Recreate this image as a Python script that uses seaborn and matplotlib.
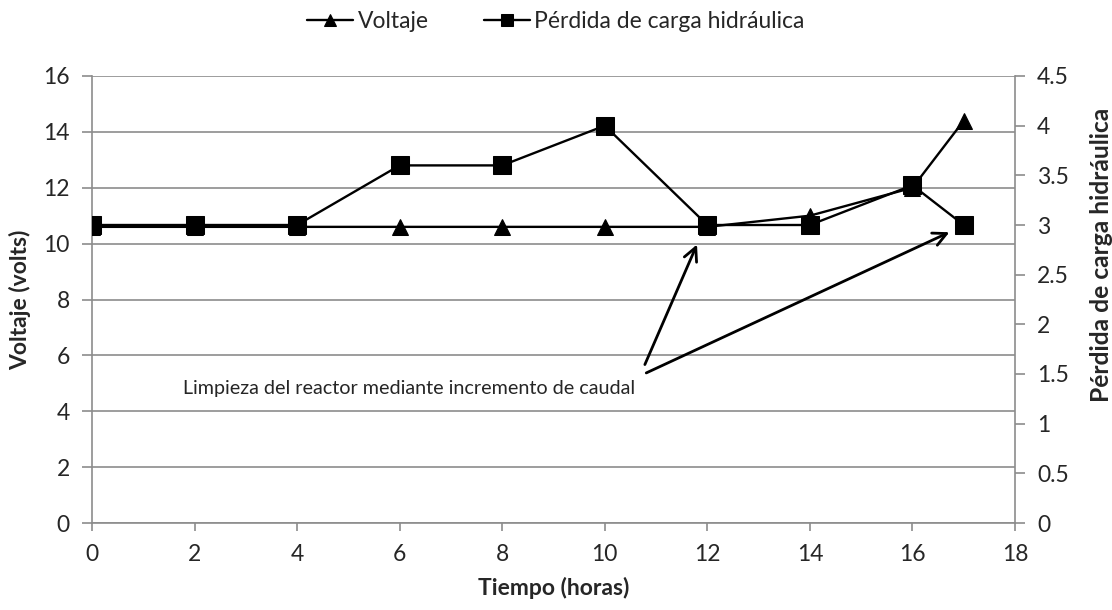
import matplotlib
matplotlib.use("Agg")
import matplotlib.pyplot as plt
import seaborn as sns
import pandas as pd

# Time (hours) and measured series
tiempo = [0, 2, 4, 6, 8, 10, 12, 14, 16, 17]
voltaje = [10.6, 10.6, 10.6, 10.6, 10.6, 10.6, 10.6, 11.0, 12.0, 14.4]
perdida = [3.0, 3.0, 3.0, 3.6, 3.6, 4.0, 3.0, 3.0, 3.4, 3.0]

x_ticks = list(range(0, 19, 2))
y_left_ticks = list(range(0, 17, 2))
y_right_ticks = [0, 0.5, 1, 1.5, 2, 2.5, 3, 3.5, 4, 4.5]
y_right_labels = ["0", "0.5", "1", "1.5", "2", "2.5", "3", "3.5", "4", "4.5"]

nota = "Limpieza del reactor mediante incremento de caudal"

df = pd.DataFrame({"tiempo": tiempo, "voltaje": voltaje, "perdida": perdida})

sns.set_theme(style="white")
plt.rcParams["font.family"] = ["Lato", "DejaVu Sans"]

fig = plt.figure(figsize=(11.12, 6.10), dpi=100)
ax = fig.add_axes([92 / 1112, 1 - 523 / 610, (1015 - 92) / 1112, (523 - 76) / 610])
ax2 = ax.twinx()

grid_c = "#8c8c8c"

sns.lineplot(data=df, x="tiempo", y="voltaje", ax=ax, color="black",
             marker="^", markersize=12, markeredgecolor="black",
             linewidth=1.7, label="Voltaje", legend=False, zorder=3)
sns.lineplot(data=df, x="tiempo", y="perdida", ax=ax2, color="black",
             marker="s", markersize=13, markeredgecolor="black",
             linewidth=1.7, label="Pérdida de carga hidráulica", legend=False,
             zorder=3)

ax.set_xlim(0, 18)
ax.set_ylim(0, 16)
ax2.set_ylim(0, 4.5)
ax.set_xticks(x_ticks)
ax.set_yticks(y_left_ticks)
ax2.set_yticks(y_right_ticks)
ax2.set_yticklabels(y_right_labels)

ax.yaxis.grid(True, color=grid_c, linewidth=1.2)
ax.xaxis.grid(False)
ax2.grid(False)
ax.set_axisbelow(True)

for a in (ax, ax2):
    a.spines["top"].set_visible(False)
    for s in a.spines.values():
        s.set_color(grid_c)
        s.set_linewidth(1.2)
ax.spines["right"].set_visible(False)
ax2.spines["left"].set_visible(False)
ax2.spines["bottom"].set_visible(False)

tick_fs = 16.5
ax.tick_params(axis="x", direction="out", length=6, width=1.2, color=grid_c,
               labelsize=tick_fs, pad=9, bottom=True)
ax.tick_params(axis="y", direction="out", length=7, width=1.2, color=grid_c,
               labelsize=tick_fs, pad=9, left=True)
ax2.tick_params(axis="y", direction="out", length=7, width=1.2, color=grid_c,
                labelsize=tick_fs, pad=9, right=True)

ax.set_xlabel("Tiempo (horas)", fontsize=16.5, fontweight="bold", labelpad=9)
ax.set_ylabel("Voltaje (volts)", fontsize=16.5, fontweight="bold")
ax.yaxis.set_label_coords(-0.078, 0.5)
ax2.set_ylabel("Pérdida de carga hidráulica", fontsize=17.7, fontweight="bold")
ax2.yaxis.set_label_coords(1.094, 0.60)
ax2.yaxis.label.set_va("center")
ax.yaxis.label.set_va("center")

# Annotation with two arrows pointing at the cleaning events
ax.text(1.77, 4.8, nota, fontsize=14.2, va="center", ha="left", zorder=4)
arrow_kw = dict(arrowstyle="->", color="black", lw=2.0, mutation_scale=24)
ax.annotate("", xy=(11.82, 10.06), xytext=(10.76, 5.58), arrowprops=arrow_kw, zorder=4)
ax.annotate("", xy=(16.77, 10.45), xytext=(10.76, 5.33), arrowprops=arrow_kw, zorder=4)

h1, l1 = ax.get_legend_handles_labels()
h2, l2 = ax2.get_legend_handles_labels()
fig.legend(h1 + h2, l1 + l2, loc="center", bbox_to_anchor=(0.5, 1 - 22 / 610),
           ncol=2, frameon=False, fontsize=16.5, handlelength=2.0,
           columnspacing=2.4, handletextpad=0.2, markerscale=0.7)

fig.savefig("out.png", dpi=100)
